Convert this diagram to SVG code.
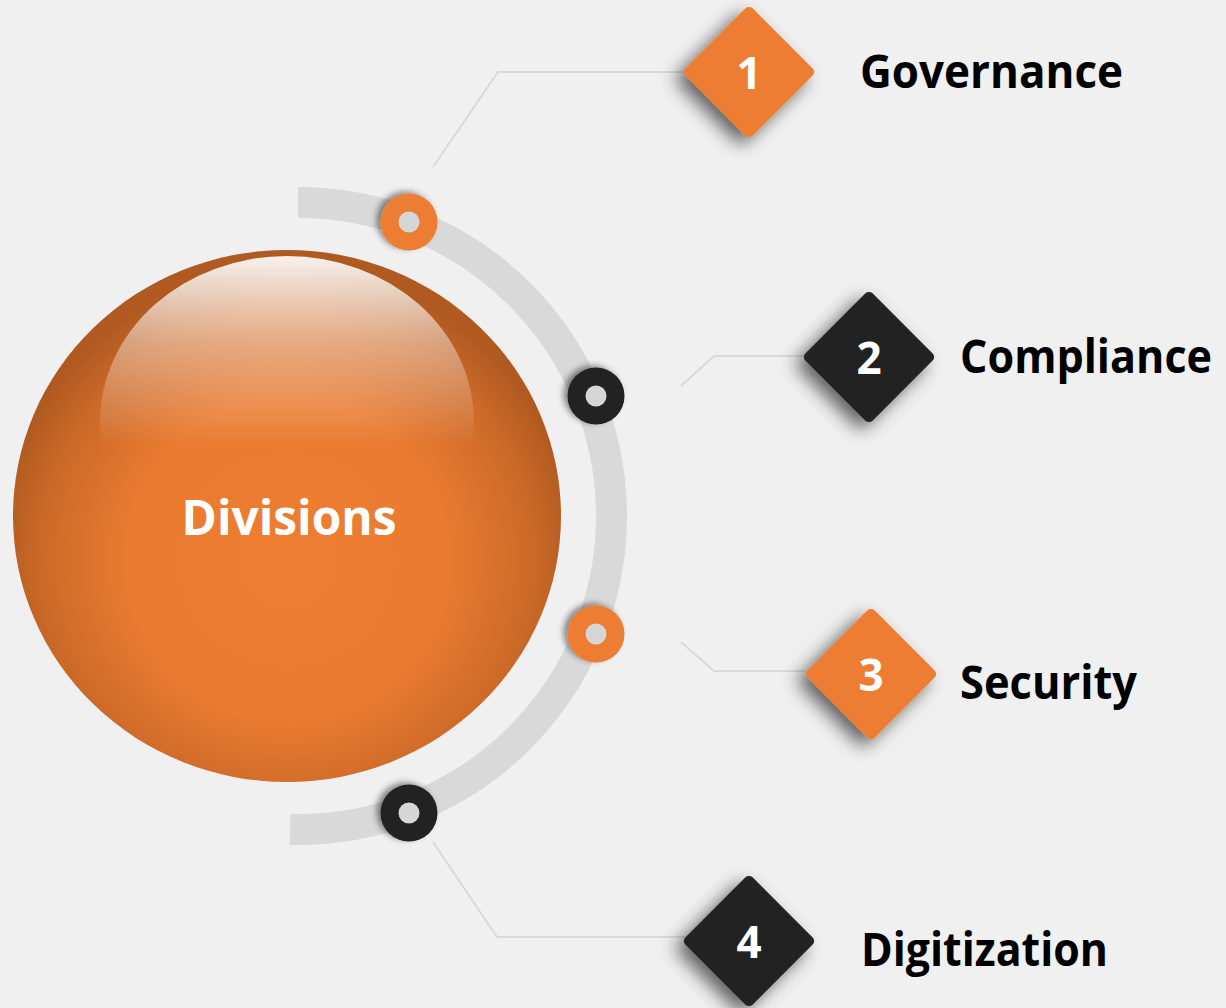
<svg xmlns="http://www.w3.org/2000/svg" width="1226" height="1008" viewBox="0 0 1226 1008">
  <defs>
    <style>
      .label { font-family: "Open Sans", "Liberation Sans", sans-serif; font-weight: 700; font-size: 46px; fill: #000; }
      .num { font-family: "Open Sans", "Liberation Sans", sans-serif; font-weight: 700; font-size: 44px; fill: #fff; text-anchor: middle; }
      .title { font-family: "Open Sans", "Liberation Sans", sans-serif; font-weight: 700; font-size: 48px; fill: #fff; text-anchor: middle; }
      .link { fill: none; stroke: #d9d9d9; stroke-width: 2; }
      .orange { fill: #ed7d31; }
      .dark { fill: #222222; }
      .hole { fill: #d6d6d6; }
    </style>
    <radialGradient id="sphereFill" cx="287" cy="560" r="290" gradientUnits="userSpaceOnUse">
      <stop offset="0" stop-color="#ed7d31"/>
      <stop offset="0.55" stop-color="#ea7b30"/>
      <stop offset="0.85" stop-color="#cb6928"/>
      <stop offset="1" stop-color="#b05a21"/>
    </radialGradient>
    <linearGradient id="gloss" x1="0" y1="256" x2="0" y2="445" gradientUnits="userSpaceOnUse">
      <stop offset="0" stop-color="#ffffff" stop-opacity="0.92"/>
      <stop offset="0.45" stop-color="#ffffff" stop-opacity="0.42"/>
      <stop offset="1" stop-color="#ffffff" stop-opacity="0"/>
    </linearGradient>
    <filter id="diaShadow" x="-60%" y="-60%" width="220%" height="220%">
      <feDropShadow dx="-8" dy="7" stdDeviation="9" flood-color="#000" flood-opacity="0.6"/>
    </filter>
    <filter id="ringShadow" x="-50%" y="-50%" width="200%" height="200%">
      <feDropShadow dx="-4" dy="-2" stdDeviation="3" flood-color="#000" flood-opacity="0.45"/>
    </filter>
    <rect id="diamond" x="-47.5" y="-47.5" width="95" height="95" rx="5" transform="rotate(45)"/>
  </defs>

  <rect width="1226" height="1008" fill="#f0f0f0"/>

  <!-- grey track around the sphere -->
  <path d="M 298 202.5 A 313.5 313.5 0 0 1 611.5 516 A 313.5 313.5 0 0 1 290 829.5" fill="none" stroke="#d9d9d9" stroke-width="31"/>

  <!-- connectors -->
  <g id="connectors">
    <polyline class="link" points="433,167 498,72 690,72"/>
    <polyline class="link" points="681,386 714,356 805,356"/>
    <polyline class="link" points="681,642 714,671 805,671"/>
    <polyline class="link" points="433,842 497,937 690,937"/>
  </g>

  <!-- central sphere -->
  <g id="divisions">
    <ellipse cx="287" cy="516" rx="274" ry="266" fill="url(#sphereFill)"/>
    <ellipse cx="287" cy="422" rx="187" ry="166" fill="url(#gloss)"/>
    <text class="title" x="289" y="535" textLength="215" lengthAdjust="spacingAndGlyphs">Divisions</text>
  </g>

  <!-- ring markers on the track -->
  <g id="ring-1" filter="url(#ringShadow)">
    <circle cx="409" cy="222" r="28.5" class="orange"/>
    <circle cx="409" cy="222" r="10.5" class="hole"/>
  </g>
  <g id="ring-2" filter="url(#ringShadow)">
    <circle cx="596" cy="396" r="28.5" class="dark"/>
    <circle cx="596" cy="396" r="10.5" class="hole"/>
  </g>
  <g id="ring-3" filter="url(#ringShadow)">
    <circle cx="596" cy="634" r="28.5" class="orange"/>
    <circle cx="596" cy="634" r="10.5" class="hole"/>
  </g>
  <g id="ring-4" filter="url(#ringShadow)">
    <circle cx="409" cy="813" r="28.5" class="dark"/>
    <circle cx="409" cy="813" r="10.5" class="hole"/>
  </g>

  <!-- numbered items -->
  <g id="item-1">
    <use href="#diamond" transform="translate(749,72)" class="orange" filter="url(#diaShadow)"/>
    <text class="num" x="749" y="89">1</text>
    <text class="label" x="860" y="88" textLength="263" lengthAdjust="spacingAndGlyphs">Governance</text>
  </g>
  <g id="item-2">
    <use href="#diamond" transform="translate(869,357)" class="dark" filter="url(#diaShadow)"/>
    <text class="num" x="869" y="374">2</text>
    <text class="label" x="960" y="373" textLength="252" lengthAdjust="spacingAndGlyphs">Compliance</text>
  </g>
  <g id="item-3">
    <use href="#diamond" transform="translate(871,674)" class="orange" filter="url(#diaShadow)"/>
    <text class="num" x="871" y="691">3</text>
    <text class="label" x="960" y="699" textLength="177" lengthAdjust="spacingAndGlyphs">Security</text>
  </g>
  <g id="item-4">
    <use href="#diamond" transform="translate(749,941)" class="dark" filter="url(#diaShadow)"/>
    <text class="num" x="749" y="958">4</text>
    <text class="label" x="861" y="966" textLength="247" lengthAdjust="spacingAndGlyphs">Digitization</text>
  </g>
</svg>
